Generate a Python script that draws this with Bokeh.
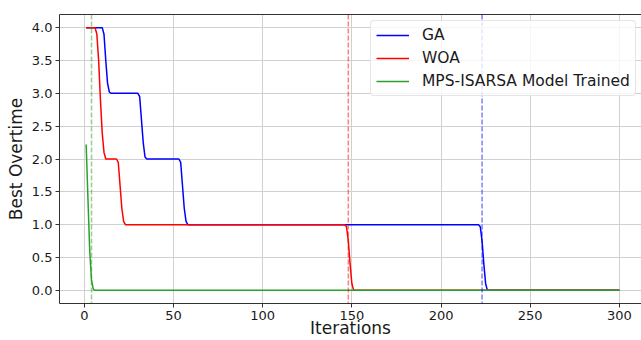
from bokeh.plotting import figure
from bokeh.models import (Range1d, FixedTicker, PrintfTickFormatter, LinearAxis,
                          Legend, LegendItem, Span)
from bokeh.embed import file_html
from bokeh.resources import INLINE

# ---- data ----
ga_iter = [1, 10, 11, 12, 13, 14, 15, 30, 31, 32, 33, 34, 35,
           53, 54, 55, 56, 57, 58, 221, 222, 223, 224, 225, 226, 300]
ga_best = [4.0, 4.0, 3.9, 3.5, 3.15, 3.02, 3.0, 3.0, 2.95, 2.6, 2.25, 2.03, 2.0,
           2.0, 1.95, 1.6, 1.25, 1.05, 1.0, 1.0, 0.97, 0.75, 0.4, 0.1, 0.0, 0.0]

woa_iter = [1, 6, 7, 8, 9, 10, 11, 12, 18, 19, 20, 21, 22, 23,
            146, 147, 148, 149, 150, 151, 300]
woa_best = [4.0, 4.0, 3.9, 3.5, 2.9, 2.4, 2.1, 2.0, 2.0, 1.95, 1.6, 1.25, 1.05, 1.0,
            1.0, 0.97, 0.75, 0.4, 0.1, 0.0, 0.0]

mps_iter = [1, 2, 3, 4, 5, 6, 300]
mps_best = [2.22, 1.4, 0.6, 0.15, 0.02, 0.0, 0.0]

ga_conv = 223
woa_conv = 148
mps_conv = 4

series_names = ["GA", "WOA", "MPS-ISARSA Model Trained"]
x_ticks = [0, 50, 100, 150, 200, 250, 300]
y_ticks = [0.0, 0.5, 1.0, 1.5, 2.0, 2.5, 3.0, 3.5, 4.0]

FONT = "DejaVu Sans"
TXT = "#1a1a1a"
SPINE = "#333333"
GRID = "#d0d0d0"
C_GA, C_WOA, C_MPS = "#0000ff", "#ff0000", "#2ca02c"

p = figure(width=641, height=340, output_backend="svg", toolbar_location=None,
           x_range=Range1d(-13.95, 312.4), y_range=Range1d(-0.2, 4.2),
           min_border_left=59, min_border_right=0, min_border_top=14,
           min_border_bottom=37, background_fill_color="white",
           border_fill_color="white")
p.outline_line_color = None

# axes
for ax in (p.xaxis[0], p.yaxis[0]):
    ax.axis_line_color = SPINE
    ax.axis_line_width = 1
    ax.major_tick_line_color = SPINE
    ax.major_tick_out = 4
    ax.major_tick_in = 0
    ax.minor_tick_out = 0
    ax.minor_tick_in = 0
    ax.major_label_text_font = FONT
    ax.major_label_text_font_size = "13px"
    ax.major_label_text_color = TXT
    ax.major_label_standoff = 3
    ax.axis_label_text_font = FONT
    ax.axis_label_text_font_size = "17px"
    ax.axis_label_text_font_style = "normal"
    ax.axis_label_text_color = TXT

p.xaxis.ticker = FixedTicker(ticks=x_ticks)
p.yaxis.ticker = FixedTicker(ticks=y_ticks)
p.yaxis.formatter = PrintfTickFormatter(format="%.1f")

p.yaxis.axis_label = "Best Overtime"
p.yaxis.axis_label_standoff = 3
p.xaxis.axis_label = "Iterations"
p.xaxis.axis_label_standoff = -5

# top spine
top = LinearAxis(ticker=FixedTicker(ticks=[]), axis_line_color=SPINE,
                 major_tick_out=0, major_tick_in=0, minor_tick_out=0,
                 minor_tick_in=0, major_label_text_font_size="0px",
                 major_label_standoff=0)
p.add_layout(top, "above")

# grid
p.xgrid.grid_line_color = GRID
p.ygrid.grid_line_color = GRID
p.xgrid.grid_line_width = 1
p.ygrid.grid_line_width = 1

# lines
r_ga = p.line(ga_iter, ga_best, line_color=C_GA, line_width=1.5)
r_woa = p.line(woa_iter, woa_best, line_color=C_WOA, line_width=1.5)
r_mps = p.line(mps_iter, mps_best, line_color=C_MPS, line_width=1.5)

for loc, col in ((ga_conv, C_GA), (woa_conv, C_WOA), (mps_conv, C_MPS)):
    p.add_layout(Span(location=loc, dimension="height", line_color=col,
                      line_alpha=0.5, line_dash="5 2", line_width=1.5))

legend = Legend(items=[LegendItem(label=series_names[0], renderers=[r_ga]),
                       LegendItem(label=series_names[1], renderers=[r_woa]),
                       LegendItem(label=series_names[2], renderers=[r_mps])],
                location=(311, 207), orientation="vertical",
                label_text_font=FONT, label_text_font_size="15.5px",
                label_text_color=TXT, glyph_width=33, glyph_height=18,
                label_height=18, label_standoff=13, spacing=5, padding=5,
                margin=0, border_line_color="#cccccc", border_line_width=1,
                background_fill_color="white", background_fill_alpha=0.8)
if "border_radius" in Legend.properties():
    legend.border_radius = 4
p.add_layout(legend)

open("out.html", "w").write(file_html(p, INLINE))
